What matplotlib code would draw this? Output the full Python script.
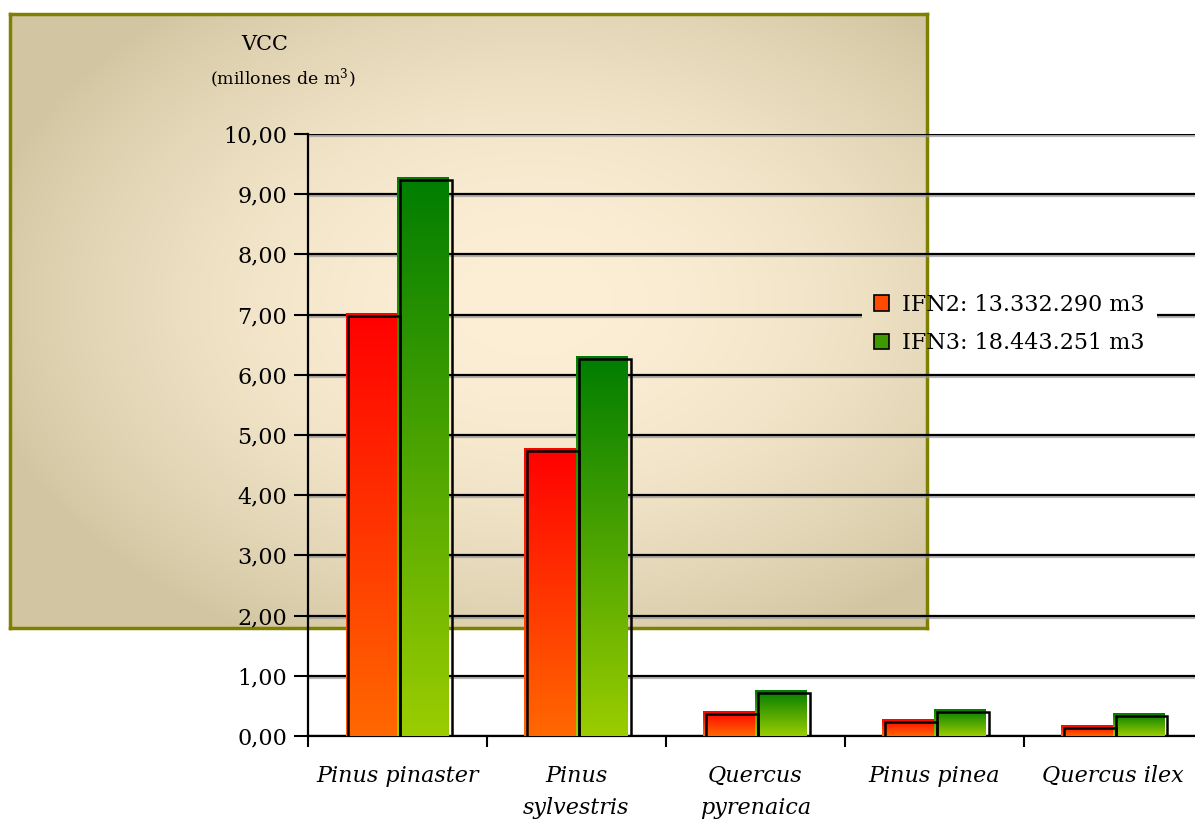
import numpy as np
import matplotlib
matplotlib.use("Agg")
import matplotlib.pyplot as plt
from matplotlib.patches import Patch
from matplotlib.path import Path
from matplotlib.transforms import offset_copy
from matplotlib import patheffects as pe
from matplotlib.ticker import FuncFormatter, FixedLocator

plt.rcParams['font.family'] = ['DejaVu Serif']
plt.rcParams['mathtext.fontset'] = 'dejavuserif'

# ---------------- data ----------------
species = ["Pinus pinaster", "Pinus\nsylvestris", "Quercus\npyrenaica", "Pinus pinea", "Quercus ilex"]
ifn2 = [7.02, 4.77, 0.40, 0.28, 0.18]
ifn3 = [9.28, 6.30, 0.75, 0.44, 0.38]
series_labels = ["IFN2: 13.332.290 m3", "IFN3: 18.443.251 m3"]
yticks = [0, 1, 2, 3, 4, 5, 6, 7, 8, 9, 10]

W, H = 1195, 823
fig = plt.figure(figsize=(W / 100, H / 100), dpi=100)
fig.patch.set_facecolor('white')

# ---------------- beige background panel ----------------
bx0, by0, bx1, by1 = 10, 14, 927, 628
bg = fig.add_axes([bx0 / W, 1 - by1 / H, (bx1 - bx0) / W, (by1 - by0) / H], zorder=0)
ny, nx = 300, 450
yy, xx = np.mgrid[0:1:ny * 1j, 0:1:nx * 1j]
cx, cy = 0.57, 0.47
d = np.sqrt(((xx - cx) / 0.62) ** 2 + ((yy - cy) / 0.62) ** 2)
t = np.clip(d, 0, 1) ** 1.9
c_center = np.array([253, 239, 214]) / 255
c_edge = np.array([210, 198, 162]) / 255
img = c_center[None, None, :] * (1 - t[..., None]) + c_edge[None, None, :] * t[..., None]
bg.imshow(img, aspect='auto', extent=[0, 1, 0, 1], origin='upper', interpolation='bilinear')
bg.set_xticks([])
bg.set_yticks([])
for s in bg.spines.values():
    s.set_color('#808000')
    s.set_linewidth(2.5)

# ---------------- main axes ----------------
left, right = 308, 1202.6
y0px, y10px = 736, 134
ax = fig.add_axes([left / W, 1 - y0px / H, (right - left) / W, (y0px - y10px) / H], zorder=1)
ax.set_facecolor('none')

n = len(species)
x = np.arange(n)
bw = 0.29

def grad_img(top, bottom):
    g = np.linspace(0, 1, 256)[:, None]
    top = np.array(top) / 255
    bottom = np.array(bottom) / 255
    arr = top[None, None, :] * (1 - g[..., None]) + bottom[None, None, :] * g[..., None]
    return np.repeat(arr, 2, axis=1)

red_img = grad_img((255, 0, 0), (255, 104, 0))
green_img = grad_img((0, 125, 0), (155, 205, 0))

shadow_tr = offset_copy(ax.transData, fig=fig, x=2.4, y=-2.4, units='dots')

for vals, offs, im in [(ifn2, -bw / 2, red_img), (ifn3, bw / 2, green_img)]:
    for xi, v in zip(x, vals):
        ax.imshow(im, extent=[xi + offs - bw / 2, xi + offs + bw / 2, 0, v],
                  aspect='auto', origin='upper', zorder=3, interpolation='bilinear')
    ax.bar(x + offs, vals, bw, facecolor='none', edgecolor='black', linewidth=1.8,
           transform=shadow_tr, zorder=4)

ax.set_xlim(-0.5, n - 0.5)
ax.set_ylim(0, 10)
ax.set_aspect('auto')

# y axis
ax.yaxis.set_major_locator(FixedLocator(yticks))
ax.yaxis.set_major_formatter(FuncFormatter(lambda v, p: f"{v:.2f}".replace('.', ',')))
ax.tick_params(axis='y', direction='out', length=10, width=1.5, labelsize=16, pad=5)
ax.yaxis.grid(True, color='black', linewidth=1.6, zorder=1)
ax.set_axisbelow(True)

# hole in the gridlines behind the legend (legend itself is transparent)
hx0, hx1 = 862 / W, 1157 / W
hy0, hy1 = 1 - 352 / H, 1 - 280 / H
outer = Path([(0, 0), (1, 0), (1, 1), (0, 1), (0, 0)], closed=True)
inner = Path([(hx0, hy0), (hx0, hy1), (hx1, hy1), (hx1, hy0), (hx0, hy0)], closed=True)
hole_path = Path.make_compound_path(outer, inner)
for gl in ax.get_ygridlines():
    gl.set_path_effects([pe.SimpleLineShadow(offset=(0, -1.5), shadow_color='#999999', alpha=0.7),
                         pe.Normal()])
    gl.set_clip_path(hole_path, fig.transFigure)

# x axis: boundary ticks, labels at centres
ax.set_xticks(np.arange(-0.5, n, 1.0))
ax.set_xticklabels([])
ax.tick_params(axis='x', which='major', direction='out', length=8, width=1.5)
ax.set_xticks(x, minor=True)
ax.set_xticklabels(species, minor=True, fontsize=16, style='italic', linespacing=1.6)
ax.tick_params(axis='x', which='minor', length=0, pad=21)

for sname in ['top', 'right']:
    ax.spines[sname].set_visible(False)
for sname in ['left', 'bottom']:
    ax.spines[sname].set_color('black')
    ax.spines[sname].set_linewidth(1.6)

# axis title
fig.text(265 / W, 1 - 44 / H, "VCC", ha='center', va='center', fontsize=15)
fig.text(283 / W, 1 - 79 / H, "(millones de m$^3$)", ha='center', va='center', fontsize=12.5)

# legend
handles = [Patch(facecolor='#ff4a00', edgecolor='black', linewidth=1.2),
           Patch(facecolor='#3f9a00', edgecolor='black', linewidth=1.2)]
leg = fig.legend(handles, series_labels, loc='upper left',
                 bbox_to_anchor=(858 / W, 1 - 278 / H), fontsize=16,
                 handlelength=0.7, handleheight=0.7, handletextpad=0.6,
                 labelspacing=0.75, frameon=False, borderpad=0.2)
leg.set_zorder(5)

fig.savefig("out.png", dpi=100)
